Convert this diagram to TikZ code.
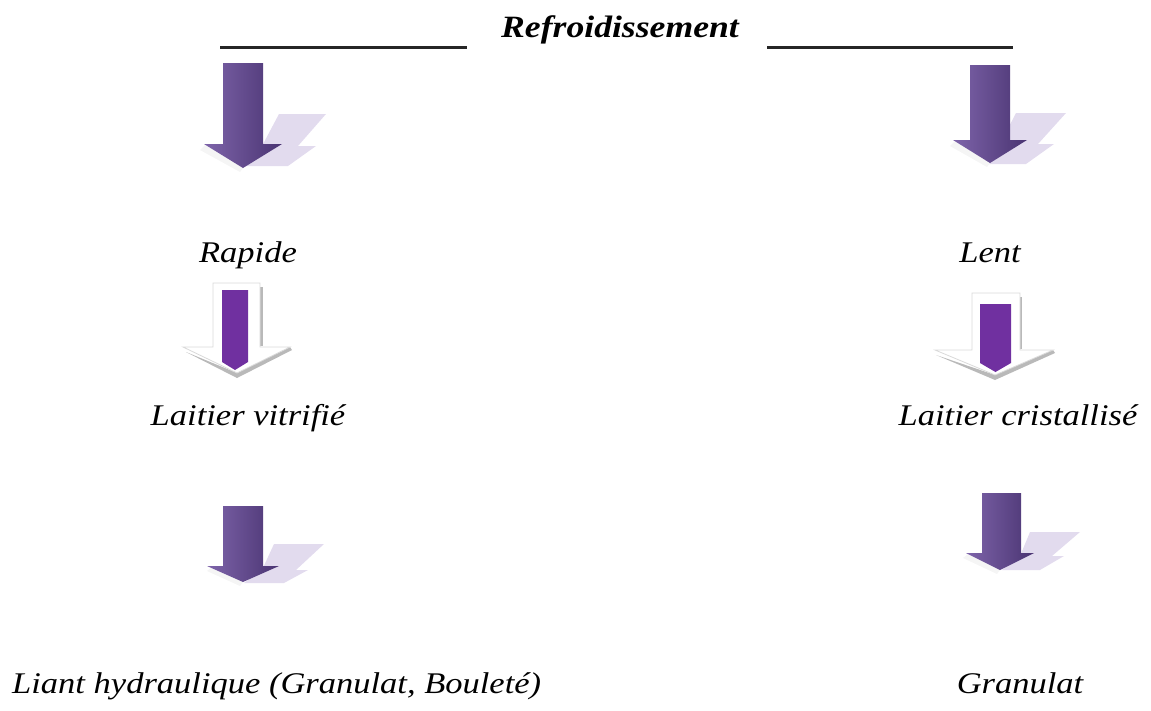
\documentclass[tikz,border=0pt]{standalone}
\usepackage{fontspec}
\setmainfont{Liberation Serif}[FakeStretch=1.15]
\tikzset{
  lbl/.style={anchor=base, inner sep=0pt, font=\fontsize{30}{32}\selectfont\itshape},
  ttl/.style={anchor=base, inner sep=0pt, font=\fontsize{31}{33}\selectfont\bfseries\itshape},
  rulel/.style={line width=3pt, draw=black!85},
  bigarr/.style={left color=arrL, right color=arrR, draw=none},
  shad/.style={fill=shadc, draw=none},
  outarr/.style={fill=white, draw=gray!30, line width=0.8pt},
  inarr/.style={fill=inpurp, draw=none},
  gshad/.style={fill=gray!55, draw=none}
}
\definecolor{arrL}{HTML}{7E64AA}
\definecolor{arrR}{HTML}{4A3472}
\definecolor{shadc}{HTML}{E2DBEE}
\definecolor{inpurp}{HTML}{7030A0}
\begin{document}
\begin{tikzpicture}[x=1pt,y=-1pt]
\useasboundingbox (0,0) rectangle (1151,710);
% title and rules
\node[ttl] (title) at (620,37) {Refroidissement};
\coordinate (l1) at (220,47); \coordinate (l2) at (467,47);
\coordinate (r1) at (767,47); \coordinate (r2) at (1013,47);
\draw[rulel] (l1) -- (l2);
\draw[rulel] (r1) -- (r2);
% ---- big arrow 1 left
\fill[shad] (279,114) -- (326,114) -- (298,146) -- (316,146) -- (288,166) -- (244,166) -- (262,146) -- cycle;
\fill[white!92!gray] (205,145) -- (200,150) -- (240,172) -- (243,168) -- cycle;
\path[bigarr] (223,63) -- (263,63) -- (263,144) -- (282,144) -- (243,168) -- (204,144) -- (223,144) -- cycle;
% ---- big arrow 1 right
\fill[shad] (1016,113) -- (1066,113) -- (1038,144) -- (1054,144) -- (1026,164) -- (982,164) -- (1000,144) -- cycle;
\fill[white!92!gray] (955,141) -- (950,146) -- (987,167) -- (990,163) -- cycle;
\path[bigarr] (970,65) -- (1010,65) -- (1010,140) -- (1027,140) -- (990,163) -- (953,140) -- (970,140) -- cycle;
% ---- outline arrow 2 left
\fill[gshad] (259,287) -- (263,287) -- (263,346) -- (259,346) -- cycle;
\fill[gshad] (186,352) -- (237,378) -- (292,350) -- (290,347) -- (237,373) -- cycle;
\path[outarr] (213,283) -- (260,283) -- (260,347) -- (290,347) -- (237,373) -- (183,347) -- (213,347) -- cycle;
\path[inarr] (222,290) -- (248,290) -- (248,362) -- (235,370) -- (222,362) -- cycle;
% ---- outline arrow 2 right
\fill[gshad] (1018,297) -- (1022,297) -- (1022,349) -- (1018,349) -- cycle;
\fill[gshad] (936,355) -- (995,380) -- (1055,353) -- (1053,350) -- (995,375) -- cycle;
\path[outarr] (972,293) -- (1020,293) -- (1020,350) -- (1053,350) -- (995,375) -- (935,350) -- (972,350) -- cycle;
\path[inarr] (980,304) -- (1011,304) -- (1011,363) -- (995.5,372) -- (980,363) -- cycle;
% ---- big arrow 3 left
\fill[shad] (274,544) -- (324,544) -- (296,570) -- (308,570) -- (284,583) -- (244,583) -- (262,570) -- cycle;
\fill[white!92!gray] (212,567) -- (207,571) -- (240,586) -- (243,582) -- cycle;
\path[bigarr] (223,506) -- (263,506) -- (263,566) -- (279,566) -- (243,582) -- (207,566) -- (223,566) -- cycle;
% ---- big arrow 3 right
\fill[shad] (1030,532) -- (1080,532) -- (1052,556) -- (1064,556) -- (1040,570) -- (1002,570) -- (1020,556) -- cycle;
\fill[white!92!gray] (968,554) -- (963,558) -- (997,574) -- (1000,570) -- cycle;
\path[bigarr] (982,493) -- (1021,493) -- (1021,553) -- (1034,553) -- (1000,570) -- (966,553) -- (982,553) -- cycle;
% labels
\node[lbl] (rap) at (248,262) {Rapide};
\node[lbl] (lent) at (990,262) {Lent};
\node[lbl] (vit) at (248,425) {Laitier vitrifié};
\node[lbl] (cri) at (1018,425) {Laitier cristallisé};
\node[lbl, anchor=base west] (liant) at (12,693) {Liant hydraulique (Granulat, Bouleté)};
\node[lbl] (gran) at (1020,693) {Granulat};
\end{tikzpicture}
\end{document}
